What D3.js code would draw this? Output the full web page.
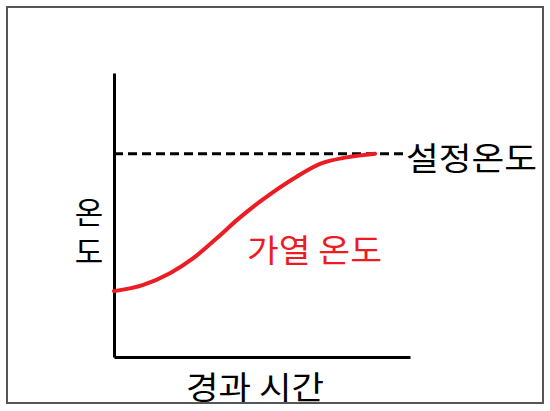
<!DOCTYPE html>
<html><head><meta charset="utf-8">
<script src="https://cdn.jsdelivr.net/npm/d3@7"></script>
<style>html,body{margin:0;padding:0;background:#fff;}svg{display:block;}</style>
</head><body>
<svg id="c" width="550" height="411"></svg>
<script>
// Data (time units 0..100, temperature units 0..100)
const heatTime = [0, 9.9, 18.9, 26.8, 34.7, 41.5, 49.3, 61.7, 69.6, 78.6, 88.2];
const heatTemp = [23.2, 25.4, 29.5, 34.8, 41.8, 48.2, 54.7, 63.5, 68.0, 70.3, 71.6];
const setTemp = 71.6;
const setRange = [0, 99];
const labels = { set: "설정온도", heat: "가열 온도", xTitle: "경과 시간", yTitle: "온도" };

const svg = d3.select("#c");
const x = d3.scaleLinear().domain([0, 100]).range([114, 410]);
const y = d3.scaleLinear().domain([0, 100]).range([357, 73]);
const font = "'Malgun Gothic','Noto Sans CJK KR',sans-serif";

// outer frame
svg.append("rect").attr("x", 7).attr("y", 7).attr("width", 536).attr("height", 396)
  .attr("fill", "none").attr("stroke", "#555").attr("stroke-width", 2);

// axes (no ticks)
const xAxis = d3.axisBottom(x).tickValues([]).tickSizeOuter(0);
const yAxis = d3.axisLeft(y).tickValues([]).tickSizeOuter(0);
svg.append("g").attr("transform", `translate(0,${y(0)})`).call(xAxis)
  .select(".domain").attr("stroke", "#000").attr("stroke-width", 3);
svg.append("g").attr("transform", `translate(${x(0)},0)`).call(yAxis)
  .select(".domain").attr("stroke", "#000").attr("stroke-width", 3);

// set temperature dashed line
svg.append("line")
  .attr("x1", x(setRange[0])).attr("x2", x(setRange[1]))
  .attr("y1", y(setTemp)).attr("y2", y(setTemp))
  .attr("stroke", "#000").attr("stroke-width", 3).attr("stroke-dasharray", "9,5");

// heating curve
const pts = heatTime.map((t, i) => [t, heatTemp[i]]);
svg.append("path").datum(pts)
  .attr("d", d3.line().x(d => x(d[0])).y(d => y(d[1])).curve(d3.curveMonotoneX))
  .attr("fill", "none").attr("stroke", "#ed1c24").attr("stroke-width", 4).attr("stroke-linecap", "round");

// labels
svg.append("text").attr("x", 406).attr("y", y(setTemp) + 2)
  .attr("dominant-baseline", "central").attr("font-family", font).attr("font-size", 32)
  .attr("textLength", 131).attr("lengthAdjust", "spacingAndGlyphs")
  .attr("fill", "#000").text(labels.set);
svg.append("text").attr("x", 247).attr("y", 248)
  .attr("dominant-baseline", "central").attr("font-family", font).attr("font-size", 32)
  .attr("textLength", 135).attr("lengthAdjust", "spacingAndGlyphs")
  .attr("fill", "#ed1c24").text(labels.heat);
svg.append("text").attr("x", 186).attr("y", 385)
  .attr("dominant-baseline", "central").attr("font-family", font).attr("font-size", 32)
  .attr("textLength", 138).attr("lengthAdjust", "spacingAndGlyphs")
  .attr("fill", "#000").text(labels.xTitle);
svg.append("text").attr("x", 89).attr("y", 197)
  .attr("font-family", font).attr("font-size", 31)
  .style("writing-mode", "vertical-rl").style("text-orientation", "upright")
  .attr("letter-spacing", 8)
  .attr("fill", "#000").text(labels.yTitle);
</script>
</body></html>
